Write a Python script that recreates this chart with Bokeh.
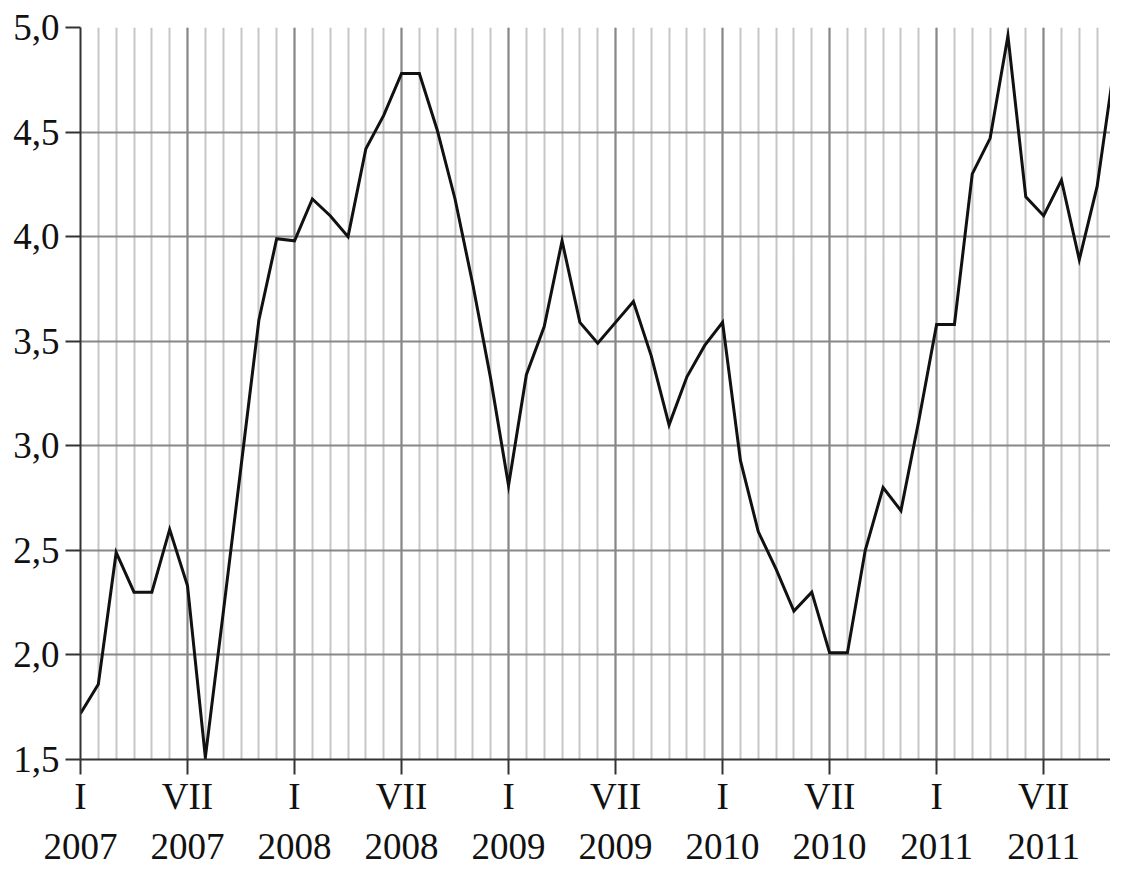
from bokeh.plotting import figure
from bokeh.models import Range1d, FixedTicker
from bokeh.embed import file_html
from bokeh.resources import INLINE

# month index 0 = January 2007
months = list(range(59))
values = [1.72, 1.86, 2.49, 2.30, 2.30, 2.60, 2.33, 1.51, 2.20, 2.90, 3.60, 3.99,
          3.98, 4.18, 4.10, 4.00, 4.42, 4.58, 4.78, 4.78, 4.51, 4.18, 3.77, 3.32,
          2.81, 3.34, 3.57, 3.98, 3.59, 3.49, 3.59, 3.69, 3.43, 3.10, 3.33, 3.48,
          3.59, 2.93, 2.59, 2.41, 2.21, 2.30, 2.01, 2.01, 2.50, 2.80, 2.69, 3.12,
          3.58, 3.58, 4.30, 4.47, 4.96, 4.19, 4.10, 4.27, 3.89, 4.24, 4.84]

x_ticks = [0, 6, 12, 18, 24, 30, 36, 42, 48, 54]
x_tick_labels = ["I\n2007", "VII\n2007", "I\n2008", "VII\n2008", "I\n2009",
                 "VII\n2009", "I\n2010", "VII\n2010", "I\n2011", "VII\n2011"]
y_ticks = [1.5, 2.0, 2.5, 3.0, 3.5, 4.0, 4.5, 5.0]
y_tick_labels = ["1,5", "2,0", "2,5", "3,0", "3,5", "4,0", "4,5", "5,0"]

FONT = "Liberation Serif"

p = figure(width=1110, height=869, output_backend="svg", toolbar_location=None,
           x_range=Range1d(0, 57.75), y_range=Range1d(1.5, 5.0),
           min_border_left=80, min_border_right=0, min_border_top=27,
           min_border_bottom=108)
p.outline_line_color = None
p.background_fill_color = "white"
p.border_fill_color = "white"

# grids
p.xgrid.ticker = FixedTicker(ticks=x_ticks, minor_ticks=months)
p.xgrid.grid_line_color = "#878787"
p.xgrid.grid_line_width = 2
p.xgrid.minor_grid_line_color = "#c6c6c6"
p.xgrid.minor_grid_line_width = 2
p.ygrid.ticker = FixedTicker(ticks=y_ticks)
p.ygrid.grid_line_color = "#878787"
p.ygrid.grid_line_width = 2

# x axis
xa = p.xaxis[0]
xa.ticker = FixedTicker(ticks=x_ticks, minor_ticks=[])
xa.major_label_overrides = dict(zip(x_ticks, x_tick_labels))
xa.axis_line_color = "#333333"
xa.axis_line_width = 2
xa.major_tick_line_color = "#333333"
xa.major_tick_line_width = 2
xa.major_tick_out = 15
xa.major_tick_in = 0
xa.minor_tick_line_color = None
xa.major_label_text_font = FONT
xa.major_label_text_font_size = "37px"
xa.major_label_text_line_height = 1.22
xa.major_label_text_color = "#111111"
xa.major_label_standoff = 1

# y axis
ya = p.yaxis[0]
ya.ticker = FixedTicker(ticks=y_ticks, minor_ticks=[])
ya.major_label_overrides = dict(zip(y_ticks, y_tick_labels))
ya.axis_line_color = "#333333"
ya.axis_line_width = 2
ya.major_tick_line_color = "#333333"
ya.major_tick_line_width = 2
ya.major_tick_out = 15
ya.major_tick_in = 0
ya.minor_tick_line_color = None
ya.major_label_text_font = FONT
ya.major_label_text_font_size = "37px"
ya.major_label_text_color = "#111111"
ya.major_label_standoff = 6

p.line(months, values, line_color="#111111", line_width=3, line_join="miter")

open("out.html", "w").write(file_html(p, INLINE))
